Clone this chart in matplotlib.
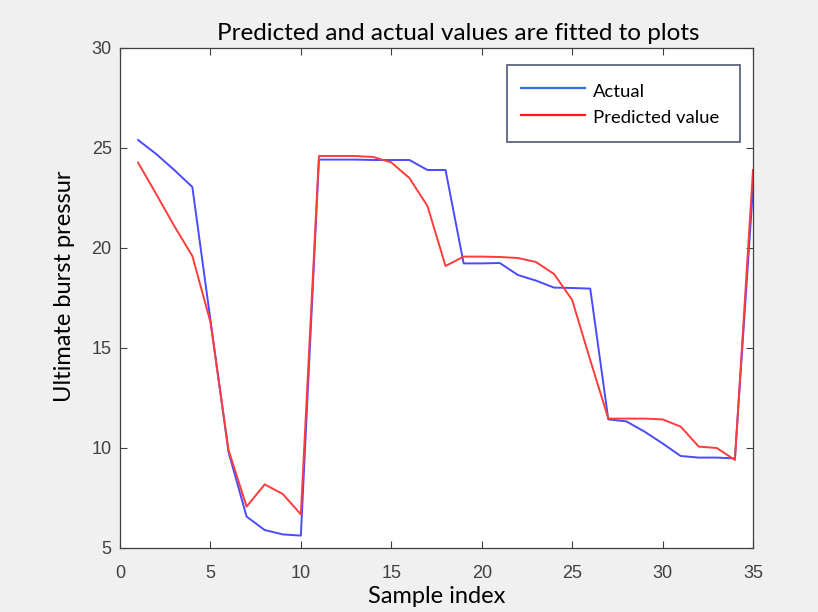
import matplotlib
matplotlib.use("Agg")
import matplotlib.pyplot as plt
from matplotlib.lines import Line2D

sample_index = list(range(1, 36))
actual = [25.4, 24.7, 23.9, 23.05, 16.4, 9.8, 6.57, 5.9, 5.68, 5.62,
          24.42, 24.42, 24.42, 24.4, 24.4, 24.4, 23.9, 23.9, 19.23, 19.23,
          19.25, 18.65, 18.37, 18.02, 18.0, 17.97, 11.43, 11.33, 10.82, 10.23,
          9.6, 9.52, 9.52, 9.48, 23.0]
predicted = [24.27, 22.7, 21.1, 19.6, 16.3, 9.9, 7.07, 8.18, 7.7, 6.68,
             24.6, 24.6, 24.6, 24.55, 24.28, 23.5, 22.1, 19.1, 19.57, 19.57,
             19.55, 19.5, 19.3, 18.7, 17.4, 14.4, 11.47, 11.47, 11.47, 11.43,
             11.07, 10.07, 10.0, 9.4, 23.9]
x_ticks = [0, 5, 10, 15, 20, 25, 30, 35]
y_ticks = [5, 10, 15, 20, 25, 30]
title = "Predicted and actual values are fitted to plots"
x_label = "Sample index"
y_label = "Ultimate burst pressur"
series_names = ["Actual", "Predicted value"]

fig = plt.figure(figsize=(8.18, 6.12), dpi=100, facecolor="#f0f0f0")
ax = fig.add_axes([120/818, 1-548/612, (753-120)/818, (548-48)/612])
ax.set_facecolor("white")

ax.plot(sample_index, actual, color="#4a4aff", lw=1.4)
ax.plot(sample_index, predicted, color="#ff3b3b", lw=1.4)

ax.set_xlim(0, 35)
ax.set_ylim(5, 30)
ax.set_xticks(x_ticks)
ax.set_yticks(y_ticks)
ax.tick_params(direction="in", top=True, right=True, length=5, width=0.8,
               colors="#404040", labelsize=13)
ax.tick_params(axis="x", pad=12)
ax.tick_params(axis="y", pad=6)
for lbl in ax.get_xticklabels() + ax.get_yticklabels():
    lbl.set_fontfamily("Liberation Sans")
for s in ax.spines.values():
    s.set_color("#404040")
    s.set_linewidth(0.9)

ax.set_title(title, fontfamily="Lato", fontsize=17.5, pad=6, x=0.534)
ax.set_xlabel(x_label, fontfamily="Lato", fontsize=17, labelpad=3)
ax.set_ylabel(y_label, fontfamily="Lato", fontsize=17, labelpad=12, y=0.523)

handles = [Line2D([], [], color="#2f6fdf", lw=1.6),
           Line2D([], [], color="#ff1a1a", lw=1.6)]
leg = ax.legend(handles, series_names, loc="upper left", mode="expand",
                bbox_to_anchor=((506.7-120)/633, 1-(65.7-48)/500,
                                (740-506.7)/633, 0.001),
                prop={"family": "Lato", "size": 13.3}, frameon=True,
                fancybox=False, edgecolor="#1f3050", handlelength=3.45,
                handleheight=1.35, borderpad=0.8, labelspacing=0.3,
                handletextpad=0.4, borderaxespad=0)
leg.get_frame().set_linewidth(1.2)
leg.set_in_layout(False)

fig.savefig("out.png", dpi=100, facecolor=fig.get_facecolor())
